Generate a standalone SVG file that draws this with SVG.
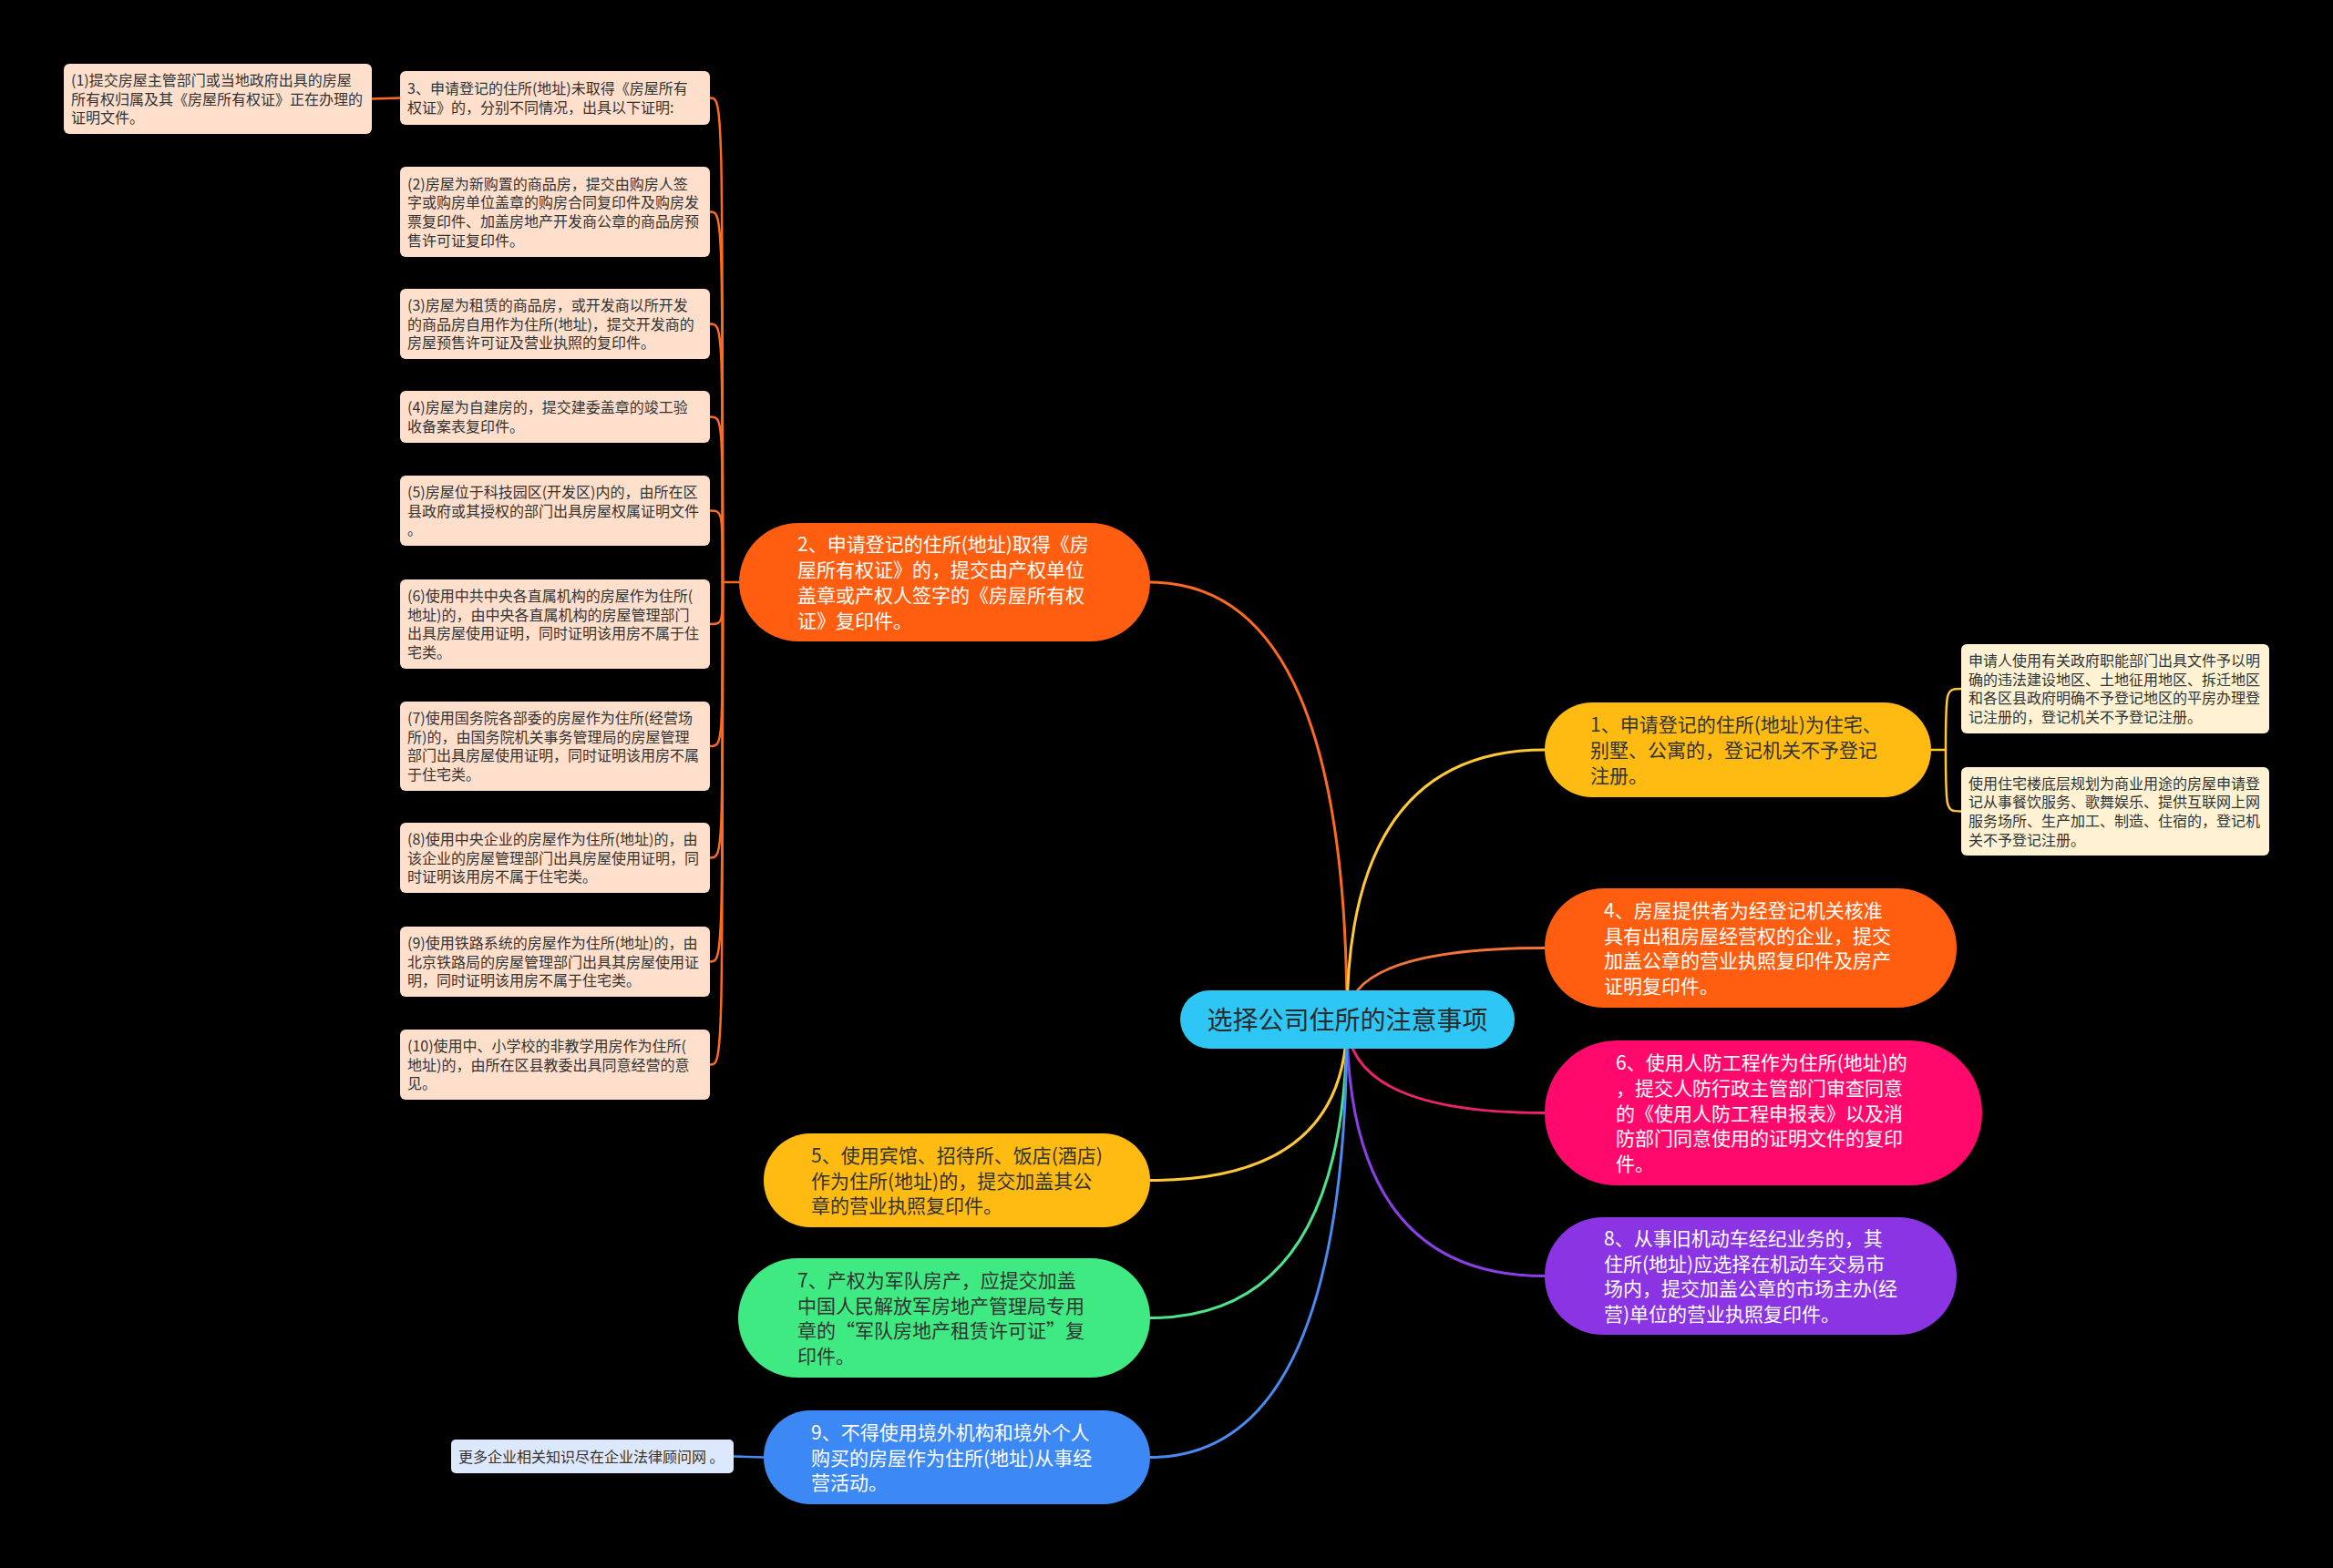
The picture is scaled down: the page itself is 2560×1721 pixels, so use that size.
<svg xmlns="http://www.w3.org/2000/svg" width="2560" height="1721" viewBox="0 0 2560 1721">
<style>
text{font-family:"Noto Sans CJK SC","Noto Sans",sans-serif;}
.sm{font-size:16px;fill:#333333;}
.lg{font-size:21px;}
.w{fill:#ffffff;}
.d{fill:#333333;}
.peach{fill:#FDDFCC;}
.cream{fill:#FEF2D2;}
.ln{fill:none;stroke-width:3;stroke-linecap:round;}
.sub{fill:none;stroke-width:2.5;stroke-linecap:round;}
</style>
<rect x="0" y="0" width="2560" height="1721" fill="#000000"/>
<g id="connectors">
<path class="ln" stroke="#FF6A1F" d="M1478,1119 Q1478,639 1262,639"/>
<path class="ln" stroke="#FFC935" d="M1478,1119 Q1478,823 1695,823"/>
<path class="ln" stroke="#F4743A" d="M1478,1119 Q1478,1040.5 1695,1040.5"/>
<path class="ln" stroke="#E8246E" d="M1478,1119 Q1478,1221.5 1695,1221.5"/>
<path class="ln" stroke="#8B3FE6" d="M1478,1119 Q1478,1400.5 1695,1400.5"/>
<path class="ln" stroke="#FFC935" d="M1478,1119 Q1478,1295.5 1262,1295.5"/>
<path class="ln" stroke="#4DE38C" d="M1478,1119 Q1478,1446.5 1262,1446.5"/>
<path class="ln" stroke="#4A8BF2" d="M1478,1119 Q1478,1599.5 1262,1599.5"/>
<g stroke="#FF6A1F">
<path class="sub" d="M811,639 L793,639"/>
<path class="sub" d="M793,639 C793,107.5 793,107.5 779,107.5"/>
<path class="sub" d="M793,639 C793,232.5 793,232.5 779,232.5"/>
<path class="sub" d="M793,639 C793,355.5 793,355.5 779,355.5"/>
<path class="sub" d="M793,639 C793,457.5 793,457.5 779,457.5"/>
<path class="sub" d="M793,639 C793,560.5 793,560.5 779,560.5"/>
<path class="sub" d="M793,639 C793,685 793,685 779,685"/>
<path class="sub" d="M793,639 C793,819 793,819 779,819"/>
<path class="sub" d="M793,639 C793,941.5 793,941.5 779,941.5"/>
<path class="sub" d="M793,639 C793,1055.5 793,1055.5 779,1055.5"/>
<path class="sub" d="M793,639 C793,1168.5 793,1168.5 779,1168.5"/>
<path class="sub" d="M439,107.5 L408,108.5"/>
</g>
<g stroke="#FFC935">
<path class="sub" d="M2119,823 L2135,823"/>
<path class="sub" d="M2135,823 C2135,756 2135,756 2152,756"/>
<path class="sub" d="M2135,823 C2135,890.5 2135,890.5 2152,890.5"/>
</g>
<path class="sub" stroke="#4A8BF2" d="M838,1599.5 L805,1598.5"/>
</g>

<g id="root">
<rect x="1295" y="1087" width="367" height="64" rx="32" fill="#2EC6F5"/>
<text x="1478.5" y="1129.6" text-anchor="middle" font-size="28" fill="#2a2a2a">选择公司住所的注意事项</text>
</g>

<g id="node2">
<rect x="811" y="574" width="451" height="130" rx="65" fill="#FF5E10"/>
<text class="lg w" x="875"><tspan x="875" y="605.3">2、申请登记的住所(地址)取得《房</tspan><tspan x="875" y="633.1">屋所有权证》的，提交由产权单位</tspan><tspan x="875" y="660.9">盖章或产权人签字的《房屋所有权</tspan><tspan x="875" y="688.7">证》复印件。</tspan></text>
</g>

<g id="node3">
<rect class="peach" x="439" y="78" width="340" height="59" rx="6"/>
<text class="sm"><tspan x="447" y="103.2">3、申请登记的住所(地址)未取得《房屋所有</tspan><tspan x="447" y="123.9">权证》的，分别不同情况，出具以下证明:</tspan></text>
</g>
<g id="node3-1">
<rect class="peach" x="70" y="70" width="338" height="77" rx="6"/>
<text class="sm"><tspan x="78" y="93.8">(1)提交房屋主管部门或当地政府出具的房屋</tspan><tspan x="78" y="114.5">所有权归属及其《房屋所有权证》正在办理的</tspan><tspan x="78" y="135.2">证明文件。</tspan></text>
</g>
<g id="node3-2">
<rect class="peach" x="439" y="183" width="340" height="99" rx="6"/>
<text class="sm"><tspan x="447" y="207.5">(2)房屋为新购置的商品房，提交由购房人签</tspan><tspan x="447" y="228.2">字或购房单位盖章的购房合同复印件及购房发</tspan><tspan x="447" y="248.9">票复印件、加盖房地产开发商公章的商品房预</tspan><tspan x="447" y="269.6">售许可证复印件。</tspan></text>
</g>
<g id="node3-3">
<rect class="peach" x="439" y="317" width="340" height="77" rx="6"/>
<text class="sm"><tspan x="447" y="340.8">(3)房屋为租赁的商品房，或开发商以所开发</tspan><tspan x="447" y="361.5">的商品房自用作为住所(地址)，提交开发商的</tspan><tspan x="447" y="382.2">房屋预售许可证及营业执照的复印件。</tspan></text>
</g>
<g id="node3-4">
<rect class="peach" x="439" y="429" width="340" height="57" rx="6"/>
<text class="sm"><tspan x="447" y="453.2">(4)房屋为自建房的，提交建委盖章的竣工验</tspan><tspan x="447" y="473.9">收备案表复印件。</tspan></text>
</g>
<g id="node3-5">
<rect class="peach" x="439" y="522" width="340" height="77" rx="6"/>
<text class="sm"><tspan x="447" y="545.8">(5)房屋位于科技园区(开发区)内的，由所在区</tspan><tspan x="447" y="566.5">县政府或其授权的部门出具房屋权属证明文件</tspan><tspan x="447" y="587.2">。</tspan></text>
</g>
<g id="node3-6">
<rect class="peach" x="439" y="636" width="340" height="98" rx="6"/>
<text class="sm"><tspan x="447" y="660">(6)使用中共中央各直属机构的房屋作为住所(</tspan><tspan x="447" y="680.7">地址)的，由中央各直属机构的房屋管理部门</tspan><tspan x="447" y="701.4">出具房屋使用证明，同时证明该用房不属于住</tspan><tspan x="447" y="722.1">宅类。</tspan></text>
</g>
<g id="node3-7">
<rect class="peach" x="439" y="770" width="340" height="98" rx="6"/>
<text class="sm"><tspan x="447" y="794">(7)使用国务院各部委的房屋作为住所(经营场</tspan><tspan x="447" y="814.7">所)的，由国务院机关事务管理局的房屋管理</tspan><tspan x="447" y="835.4">部门出具房屋使用证明，同时证明该用房不属</tspan><tspan x="447" y="856.1">于住宅类。</tspan></text>
</g>
<g id="node3-8">
<rect class="peach" x="439" y="903" width="340" height="77" rx="6"/>
<text class="sm"><tspan x="447" y="926.8">(8)使用中央企业的房屋作为住所(地址)的，由</tspan><tspan x="447" y="947.5">该企业的房屋管理部门出具房屋使用证明，同</tspan><tspan x="447" y="968.2">时证明该用房不属于住宅类。</tspan></text>
</g>
<g id="node3-9">
<rect class="peach" x="439" y="1017" width="340" height="77" rx="6"/>
<text class="sm"><tspan x="447" y="1040.8">(9)使用铁路系统的房屋作为住所(地址)的，由</tspan><tspan x="447" y="1061.5">北京铁路局的房屋管理部门出具其房屋使用证</tspan><tspan x="447" y="1082.2">明，同时证明该用房不属于住宅类。</tspan></text>
</g>
<g id="node3-10">
<rect class="peach" x="439" y="1130" width="340" height="77" rx="6"/>
<text class="sm"><tspan x="447" y="1153.8">(10)使用中、小学校的非教学用房作为住所(</tspan><tspan x="447" y="1174.5">地址)的，由所在区县教委出具同意经营的意</tspan><tspan x="447" y="1195.2">见。</tspan></text>
</g>

<g id="node1">
<rect x="1695" y="771" width="424" height="104" rx="52" fill="#FFBB12"/>
<text class="lg d"><tspan x="1745" y="803.2">1、申请登记的住所(地址)为住宅、</tspan><tspan x="1745" y="831">别墅、公寓的，登记机关不予登记</tspan><tspan x="1745" y="858.8">注册。</tspan></text>
</g>
<g id="node1-a">
<rect class="cream" x="2152" y="707" width="338" height="98" rx="6"/>
<text class="sm"><tspan x="2160" y="731">申请人使用有关政府职能部门出具文件予以明</tspan><tspan x="2160" y="751.7">确的违法建设地区、土地征用地区、拆迁地区</tspan><tspan x="2160" y="772.4">和各区县政府明确不予登记地区的平房办理登</tspan><tspan x="2160" y="793.1">记注册的，登记机关不予登记注册。</tspan></text>
</g>
<g id="node1-b">
<rect class="cream" x="2152" y="842" width="338" height="97" rx="6"/>
<text class="sm"><tspan x="2160" y="865.5">使用住宅楼底层规划为商业用途的房屋申请登</tspan><tspan x="2160" y="886.2">记从事餐饮服务、歌舞娱乐、提供互联网上网</tspan><tspan x="2160" y="906.9">服务场所、生产加工、制造、住宿的，登记机</tspan><tspan x="2160" y="927.6">关不予登记注册。</tspan></text>
</g>

<g id="node4">
<rect x="1695" y="975" width="452" height="131" rx="65" fill="#FF5E10"/>
<text class="lg w"><tspan x="1760" y="1006.8">4、房屋提供者为经登记机关核准</tspan><tspan x="1760" y="1034.6">具有出租房屋经营权的企业，提交</tspan><tspan x="1760" y="1062.4">加盖公章的营业执照复印件及房产</tspan><tspan x="1760" y="1090.2">证明复印件。</tspan></text>
</g>

<g id="node6">
<rect x="1695" y="1142" width="480" height="159" rx="79" fill="#FF0A6C"/>
<text class="lg w"><tspan x="1773" y="1173.9">6、使用人防工程作为住所(地址)的</tspan><tspan x="1773" y="1201.7">，提交人防行政主管部门审查同意</tspan><tspan x="1773" y="1229.5">的《使用人防工程申报表》以及消</tspan><tspan x="1773" y="1257.3">防部门同意使用的证明文件的复印</tspan><tspan x="1773" y="1285.1">件。</tspan></text>
</g>

<g id="node8">
<rect x="1695" y="1336" width="452" height="129" rx="64" fill="#8A34E4"/>
<text class="lg w"><tspan x="1760" y="1366.8">8、从事旧机动车经纪业务的，其</tspan><tspan x="1760" y="1394.6">住所(地址)应选择在机动车交易市</tspan><tspan x="1760" y="1422.4">场内，提交加盖公章的市场主办(经</tspan><tspan x="1760" y="1450.2">营)单位的营业执照复印件。</tspan></text>
</g>

<g id="node5">
<rect x="838" y="1244" width="424" height="103" rx="51" fill="#FFBB12"/>
<text class="lg d"><tspan x="890" y="1275.7">5、使用宾馆、招待所、饭店(酒店)</tspan><tspan x="890" y="1303.5">作为住所(地址)的，提交加盖其公</tspan><tspan x="890" y="1331.3">章的营业执照复印件。</tspan></text>
</g>

<g id="node7">
<rect x="810" y="1381" width="452" height="131" rx="65" fill="#3FEA82"/>
<text class="lg d"><tspan x="875" y="1412.8">7、产权为军队房产，应提交加盖</tspan><tspan x="875" y="1440.6">中国人民解放军房地产管理局专用</tspan><tspan x="875" y="1468.4">章的“军队房地产租赁许可证”复</tspan><tspan x="875" y="1496.2">印件。</tspan></text>
</g>

<g id="node9">
<rect x="838" y="1548" width="424" height="103" rx="51" fill="#3C88F5"/>
<text class="lg w"><tspan x="890" y="1579.7">9、不得使用境外机构和境外个人</tspan><tspan x="890" y="1607.5">购买的房屋作为住所(地址)从事经</tspan><tspan x="890" y="1635.3">营活动。</tspan></text>
</g>
<g id="node9-1">
<rect x="495" y="1580" width="310" height="37" rx="5" fill="#DCE8FB"/>
<text class="sm" x="503" y="1604.5">更多企业相关知识尽在企业法律顾问网 。</text>
</g>
</svg>
